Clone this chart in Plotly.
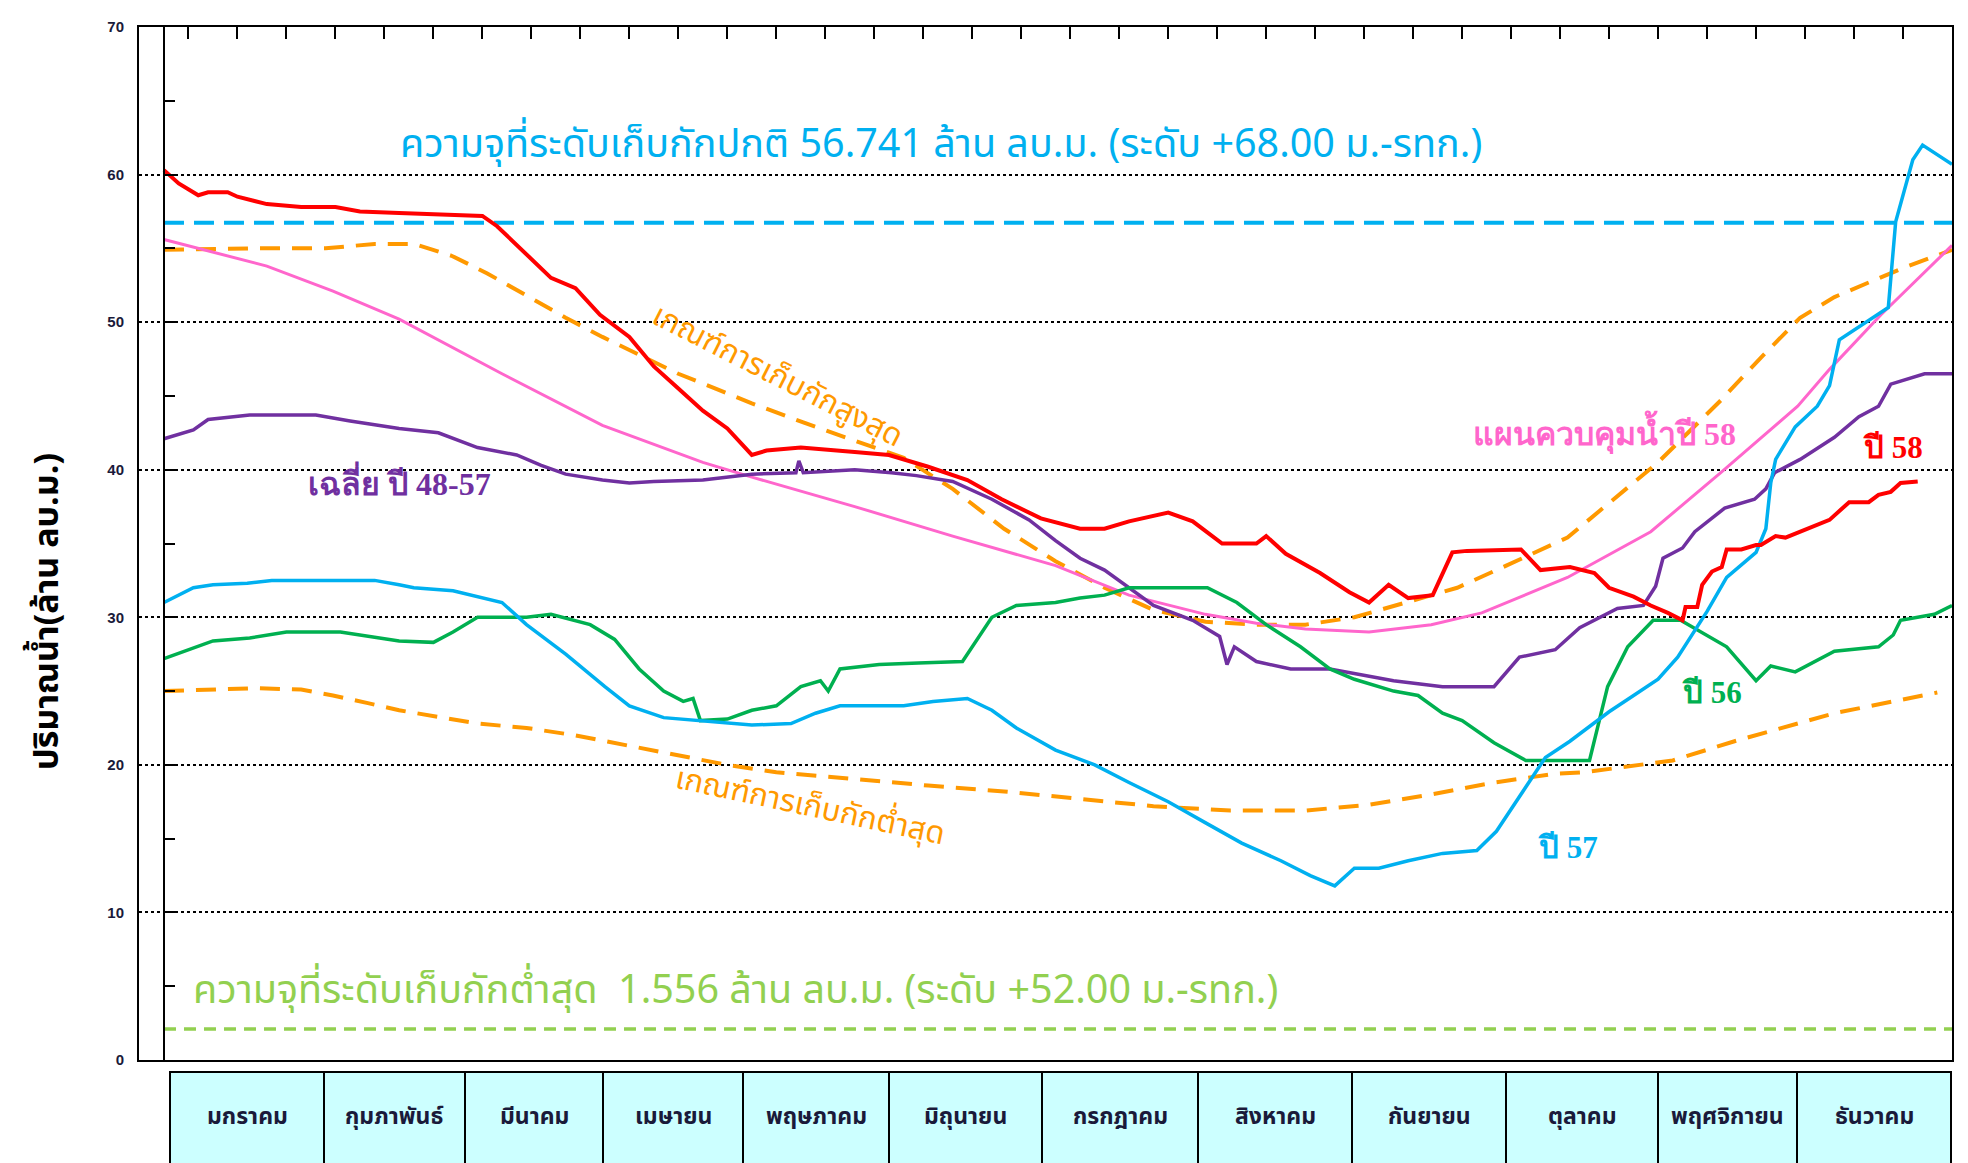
import plotly.graph_objects as go

# ---------------- data ----------------
months = ["มกราคม", "กุมภาพันธ์", "มีนาคม", "เมษายน", "พฤษภาคม", "มิถุนายน",
          "กรกฎาคม", "สิงหาคม", "กันยายน", "ตุลาคม", "พฤศจิกายน", "ธันวาคม"]
y_ticks = [0, 10, 20, 30, 40, 50, 60, 70]

normal_capacity = 56.741
dead_line_level = 2.1

y58_days = [0, 3, 7, 9, 13, 15, 21, 28, 35, 40, 48, 56, 65, 68, 74, 79, 84, 89, 95, 100, 105,
            110, 115, 120, 123, 130, 141, 148, 156, 164, 171, 179, 187, 192, 197, 205, 210,
            216, 223, 225, 229, 236, 242, 246, 250, 254, 259, 263, 266, 277, 281, 287, 292,
            295, 300, 303.5, 307, 310, 310.6, 313, 314, 316, 318, 319, 322, 325, 326, 329,
            331, 334, 340, 344, 348, 350, 352.5, 354.5, 358]
y58_vals = [60.3, 59.4, 58.6, 58.8, 58.8, 58.5, 58.0, 57.8, 57.8, 57.5, 57.4, 57.3, 57.2, 56.5,
            54.6, 53.0, 52.3, 50.5, 49.0, 47.0, 45.5, 44.0, 42.8, 41.0, 41.3, 41.5, 41.2,
            41.0, 40.2, 39.3, 38.0, 36.7, 36.0, 36.0, 36.5, 37.1, 36.5, 35.0, 35.0, 35.5,
            34.3, 33.0, 31.7, 31.0, 32.2, 31.3, 31.5, 34.4, 34.5, 34.6, 33.2, 33.4, 33.0,
            32.0, 31.4, 30.8, 30.3, 29.8, 30.7, 30.7, 32.2, 33.1, 33.4, 34.6, 34.6, 34.9,
            34.9, 35.5, 35.4, 35.8, 36.6, 37.8, 37.8, 38.3, 38.5, 39.1, 39.2]

y57_days = [0, 6, 10, 17, 22, 43, 48, 51, 59, 66, 69, 74, 82, 90, 95, 102, 110, 120, 128, 133,
            138, 151, 157, 164, 169, 174, 182, 190, 197, 205, 213, 220, 228, 234, 239, 243,
            248, 254, 261, 268, 272, 277, 282, 287, 295, 300, 305, 309, 315, 319, 325, 327,
            328, 329, 333, 337.5, 340, 342, 348, 352, 353.5, 357, 359, 365]
y57_vals = [31.0, 32.0, 32.2, 32.3, 32.5, 32.5, 32.2, 32.0, 31.8, 31.2, 31.0, 29.5, 27.5, 25.3,
            24.0, 23.2, 23.0, 22.7, 22.8, 23.5, 24.0, 24.0, 24.3, 24.5, 23.7, 22.5, 21.0,
            20.0, 18.8, 17.5, 16.0, 14.7, 13.5, 12.5, 11.8, 13.0, 13.0, 13.5, 14.0, 14.2,
            15.5, 18.0, 20.5, 21.6, 23.6, 24.7, 25.8, 27.3, 30.4, 32.7, 34.4, 36.0, 39.1,
            40.7, 42.9, 44.3, 45.7, 48.8, 50.1, 51.0, 56.8, 61.0, 62.0, 60.7]

y56_days = [0, 6, 10, 17.5, 25, 36, 43.5, 48, 55, 59, 64, 74, 79, 87, 92, 97, 102, 106, 108,
            109.5, 115, 120, 125, 130, 134, 135.6, 138, 146, 154, 163, 169, 174, 182, 187,
            192, 197, 213, 219, 225, 232, 238, 243, 251, 256, 261, 265, 271.5, 278, 291,
            294.7, 298.8, 304, 309.6, 315.7, 319, 325, 328, 333, 341, 350, 353, 354.5, 361.4,
            365]
y56_vals = [27.2, 27.9, 28.4, 28.6, 29.0, 29.0, 28.6, 28.4, 28.3, 29.0, 30.0, 30.0, 30.2, 29.5,
            28.5, 26.5, 25.0, 24.3, 24.5, 23.0, 23.1, 23.7, 24.0, 25.3, 25.7, 25.0, 26.5,
            26.8, 26.9, 27.0, 30.0, 30.8, 31.0, 31.3, 31.5, 32.0, 32.0, 31.0, 29.5, 28.0,
            26.5, 25.8, 25.0, 24.7, 23.5, 23.0, 21.5, 20.3, 20.3, 25.3, 28.0, 29.8, 29.8,
            28.6, 28.0, 25.7, 26.7, 26.3, 27.7, 28.0, 28.8, 29.8, 30.2, 30.8]

avg_days = [0, 6, 9, 17.5, 31, 38, 48, 56, 64, 72, 77, 82, 89.5, 95, 100, 110, 120, 129, 129.6,
            130.5, 141, 148.5, 153.6, 161, 169, 176.6, 182, 187, 192, 197, 202, 210, 215.5,
            217, 218.5, 223, 230, 238, 246, 251, 256, 261, 271.5, 274, 276.7, 284, 289, 296.7,
            302, 304.5, 306, 310, 312.5, 318.6, 324.7, 327, 328.8, 334, 341, 346, 350,
            352.5, 356.5, 359.4, 365]
avg_vals = [42.1, 42.7, 43.4, 43.7, 43.7, 43.3, 42.8, 42.5, 41.5, 41.0, 40.3, 39.7, 39.3, 39.1,
            39.2, 39.3, 39.7, 39.8, 40.6, 39.8, 40.0, 39.8, 39.6, 39.2, 38.0, 36.6, 35.2,
            34.0, 33.2, 32.0, 30.8, 29.8, 28.7, 26.8, 28.0, 27.0, 26.5, 26.5, 26.0, 25.7,
            25.5, 25.3, 25.3, 26.3, 27.3, 27.8, 29.3, 30.6, 30.8, 32.1, 34.0, 34.7, 35.8,
            37.4, 38.0, 38.7, 39.8, 40.7, 42.2, 43.6, 44.3, 45.8, 46.2, 46.5, 46.5]

plan_days = [0, 21, 34.5, 48, 69, 89.5, 110, 120, 141, 161, 182, 197, 212.6, 223, 233, 246,
             258.7, 269, 286.5, 303.5, 317.8, 333.5, 340, 350.5, 365]
plan_vals = [55.6, 53.8, 52.1, 50.2, 46.5, 43.0, 40.5, 39.5, 37.5, 35.5, 33.5, 31.5, 30.2, 29.6,
             29.2, 29.0, 29.5, 30.3, 32.7, 35.8, 39.8, 44.3, 46.8, 50.5, 55.2]

rule_max_days = [0, 17.7, 33, 43, 51, 58.7, 66, 74, 82, 89.5, 97, 105, 112.6, 120, 130.5, 141,
                 151, 161, 171.5, 182, 192, 202, 212.6, 223, 233, 243, 253.6, 264, 274, 286.5,
                 305, 317.8, 326, 334, 341, 354.5, 365]
rule_max_vals = [54.9, 55.0, 55.0, 55.3, 55.3, 54.5, 53.3, 51.8, 50.3, 49.0, 47.8, 46.5, 45.5,
                 44.5, 43.2, 42.0, 40.8, 38.7, 36.0, 33.8, 32.0, 30.5, 29.7, 29.5, 29.5, 30.0,
                 31.0, 32.0, 33.5, 35.4, 40.5, 44.7, 47.6, 50.3, 51.7, 53.6, 54.9]

rule_min_days = [0, 19, 28, 34.5, 41.4, 48, 64, 74, 84, 94.6, 105, 115, 125, 141, 156, 171.5,
                 187, 202, 217.7, 233, 246, 258.7, 271.5, 284, 290, 308, 320.6, 341, 362]
rule_min_vals = [25.0, 25.2, 25.1, 24.7, 24.2, 23.7, 22.8, 22.5, 22.0, 21.3, 20.6, 20.0, 19.5,
                 19.0, 18.6, 18.2, 17.7, 17.2, 16.9, 16.9, 17.3, 18.0, 18.8, 19.4, 19.5, 20.3,
                 21.6, 23.5, 24.9]

# month box boundaries (page pixels)
box_edges_px = [170, 324, 465, 603, 743, 889, 1042, 1198, 1352, 1506, 1658, 1797, 1951]

# ---------------- figure ----------------
THAI = "Tahoma, 'Noto Sans Thai', 'Leelawadee UI', sans-serif"
SERIF = "'Liberation Serif', 'Times New Roman', serif"
BLUE = "#00B0F0"
GREEN = "#00B050"
LGREEN = "#92D050"
RED = "#FF0000"
PURPLE = "#7030A0"
PINK = "#FF66CC"
ORANGE = "#FF9900"

fig = go.Figure()

def line(x, y, color, width, dash=None, yaxis="y"):
    fig.add_trace(go.Scatter(x=x, y=y, mode="lines", yaxis=yaxis, hoverinfo="skip",
                             line=dict(color=color, width=width, dash=dash), showlegend=False))

line([0, 365], [dead_line_level, dead_line_level], LGREEN, 3.5, "12px,8px", yaxis="y2")
line([0, 365], [normal_capacity, normal_capacity], BLUE, 4, "20px,10px")
line(rule_min_days, rule_min_vals, ORANGE, 4, "20px,12px")
line(rule_max_days, rule_max_vals, ORANGE, 4, "20px,12px")
line(plan_days, plan_vals, PINK, 3)
line(avg_days, avg_vals, PURPLE, 3.5)
line(y56_days, y56_vals, GREEN, 3.5)
line(y57_days, y57_vals, BLUE, 3.5)
line(y58_days, y58_vals, RED, 4)

# page geometry (the page body adds an 8px offset)
OFF = 8
W, H = 1968 - OFF, 1163 - OFF
PL, PR, PT, PB = 139, 1952, 18, 1060          # plot area in page pixels
L, T = PL - OFF, PT - OFF
R = W - (PR - OFF)
B = H - (PB - OFF)
pw = PR - PL
ph = PB - PT
x0_day = -(164 - PL) / 4.9

def px2paper_x(px):
    return (px - PL) / pw

def px2paper_y(py):
    return (PB - py) / ph

shapes = []
annotations = []
for i, m in enumerate(months):
    a, b = box_edges_px[i], box_edges_px[i + 1]
    shapes.append(dict(type="rect", xref="paper", yref="paper",
                       x0=px2paper_x(a), x1=px2paper_x(b),
                       y0=px2paper_y(1072), y1=px2paper_y(1200),
                       fillcolor="#CCFFFF", line=dict(color="black", width=2), layer="above"))
    annotations.append(dict(xref="paper", yref="paper", x=px2paper_x((a + b) / 2),
                            y=px2paper_y(1117), text=m, showarrow=False,
                            xanchor="center", yanchor="middle",
                            font=dict(family=THAI, size=23, color="#1A1A3A", weight="bold")))

def ann(x, y, text, color, size, angle=0, bold=False, family=THAI):
    annotations.append(dict(x=x, y=y, xref="x", yref="y", text=text, showarrow=False,
                            textangle=angle, xanchor="center", yanchor="middle",
                            font=dict(family=family, size=size, color=color,
                                      weight="bold" if bold else "normal")))

ann(158.6, 62.0, "ความจุที่ระดับเก็บกักปกติ 56.741 ล้าน ลบ.ม. (ระดับ +68.00 ม.-รทก.)", BLUE, 39.5)
ann(116.7, 4.7, "ความจุที่ระดับเก็บกักต่ำสุด  1.556 ล้าน ลบ.ม. (ระดับ +52.00 ม.-รทก.)", LGREEN, 39.5)
ann(125.3, 46.3, "เกณฑ์การเก็บกักสูงสุด", ORANGE, 31, angle=27)
ann(131.8, 17.2, "เกณฑ์การเก็บกักต่ำสุด", ORANGE, 31, angle=12)
ann(48, 39.2, "เฉลี่ย ปี 48-57", PURPLE, 32, bold=True, family=SERIF)
ann(294, 42.5, "แผนควบคุมน้ำปี 58", PINK, 32, bold=True, family=SERIF)
ann(352.9, 41.5, "ปี 58", RED, 31, bold=True, family=SERIF)
ann(316, 24.9, "ปี 56", GREEN, 31, bold=True, family=SERIF)
ann(286.7, 14.4, "ปี 57", BLUE, 31, bold=True, family=SERIF)

annotations.append(dict(xref="paper", yref="paper", x=px2paper_x(48), y=px2paper_y(608),
                        text="ปริมาณน้ำ(ล้าน ลบ.ม.)", showarrow=False, textangle=-90,
                        xanchor="center", yanchor="middle",
                        font=dict(family=THAI, size=34, color="black", weight="bold")))

fig.update_layout(
    width=W, height=H,
    margin=dict(l=L, r=R, t=T, b=B),
    paper_bgcolor="white", plot_bgcolor="white",
    shapes=shapes, annotations=annotations,
    xaxis=dict(range=[x0_day, 365], showgrid=False, zeroline=False,
               showline=True, linecolor="black", linewidth=2, mirror=True,
               side="top", ticks="inside", tickvals=list(range(5, 360, 10)),
               ticklen=12, tickwidth=2, tickcolor="black", showticklabels=False),
    yaxis=dict(range=[0, 70], tickvals=y_ticks, showgrid=True, gridcolor="black",
               griddash="dot", gridwidth=1.5, zeroline=False,
               showline=True, linecolor="black", linewidth=2, mirror=True,
               ticks="", ticklabelstandoff=10,
               tickfont=dict(family="Arial, 'Liberation Sans', sans-serif", size=15,
                             color="#1A1A3A", weight="bold")),
    yaxis2=dict(range=[0, 70], overlaying="y", anchor="free",
                position=px2paper_x(164), showgrid=False, zeroline=False,
                showline=True, linecolor="black", linewidth=2,
                ticks="inside", tickvals=list(range(5, 70, 5)), ticklen=10, tickwidth=2,
                tickcolor="black", showticklabels=False),
)

fig.write_html("out.html")
